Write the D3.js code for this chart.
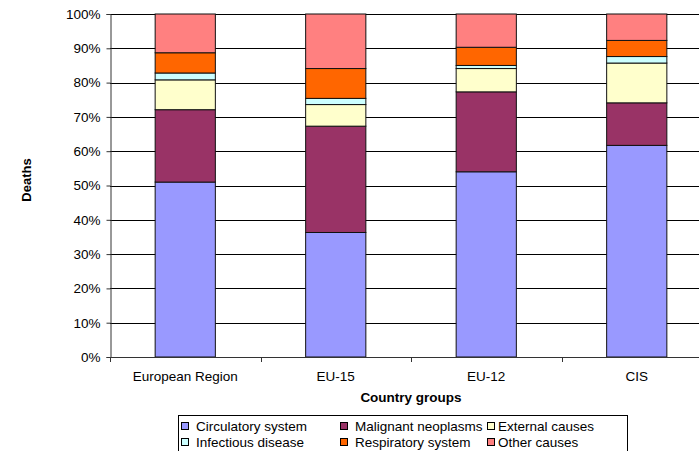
<!DOCTYPE html>
<html>
<head>
<meta charset="utf-8">
<script src="https://cdn.jsdelivr.net/npm/d3@7"></script>
<style>
  body { margin: 0; background: #fff; }
  text { font-family: "Liberation Sans", Arial, sans-serif; fill: #000; }
</style>
</head>
<body>
<svg id="chart" width="699" height="451"></svg>
<script>
// values, percent of deaths
var categories = ["European Region", "EU-15", "EU-12", "CIS"];
var circulatory = [51.0, 36.3, 54.0, 61.7];
var malignant = [21.1, 31.0, 23.3, 12.4];
var external = [8.7, 6.3, 6.8, 11.6];
var infectious = [2.0, 1.8, 0.9, 1.9];
var respiratory = [5.9, 8.7, 5.3, 4.7];
var other = [11.3, 15.9, 9.7, 7.7];

var seriesNames = ["Circulatory system", "Malignant neoplasms", "External causes",
  "Infectious disease", "Respiratory system", "Other causes"];
var seriesValues = [circulatory, malignant, external, infectious, respiratory, other];
var colors = ["#9999ff", "#993366", "#ffffcc", "#ccffff", "#ff6600", "#ff8080"];
var yTicks = [0, .1, .2, .3, .4, .5, .6, .7, .8, .9, 1];

var svg = d3.select("#chart");
var plotLeft = 110, plotRight = 712, plotTop = 14, plotBottom = 357;

var table = categories.map(function(c, i) {
  var row = {cat: c};
  seriesNames.forEach(function(s, j) { row[s] = seriesValues[j][i]; });
  return row;
});

var stack = d3.stack().keys(seriesNames).offset(d3.stackOffsetExpand)(table);

var x = d3.scaleBand().domain(categories).range([plotLeft, plotRight])
  .paddingInner(0.6).paddingOuter(0.3);
var y = d3.scaleLinear().domain([0, 1]).range([plotBottom, plotTop]);

// gridlines
svg.append("g").selectAll("line").data(yTicks).enter().append("line")
  .attr("x1", plotLeft).attr("x2", 699)
  .attr("y1", function(d) { return Math.round(y(d)) + .5; })
  .attr("y2", function(d) { return Math.round(y(d)) + .5; })
  .attr("stroke", "#000").attr("stroke-width", 1);

// bars
svg.append("g").selectAll("g").data(stack).enter().append("g")
  .attr("fill", function(d, i) { return colors[i]; })
  .selectAll("rect").data(function(d) { return d; }).enter().append("rect")
  .attr("x", function(d) { return x(d.data.cat); })
  .attr("width", x.bandwidth())
  .attr("y", function(d) { return y(d[1]); })
  .attr("height", function(d) { return y(d[0]) - y(d[1]); })
  .attr("stroke", "#111").attr("stroke-width", 1);

// y axis
var yAxis = svg.append("g").attr("transform", "translate(" + (plotLeft + .5) + ",0)")
  .call(d3.axisLeft(y).tickValues(yTicks).tickFormat(d3.format(".0%")).tickSize(4).tickPadding(6));
yAxis.select(".domain").attr("stroke", "#333");
yAxis.selectAll(".tick line").attr("stroke", "#333");
yAxis.selectAll("text").style("font-size", "13.5px").attr("fill", "#000")
  .style("font-family", "'Liberation Sans', Arial, sans-serif");

// x axis
var xTicks = d3.range(categories.length + 1).map(function(i) { return plotLeft + i * x.step(); });
var xAxis = svg.append("g");
xAxis.append("line").attr("x1", plotLeft).attr("x2", 699)
  .attr("y1", plotBottom + .5).attr("y2", plotBottom + .5).attr("stroke", "#333");
xAxis.selectAll(".xt").data(xTicks).enter().append("line").attr("class", "xt")
  .attr("x1", function(d) { return Math.round(d) + .5; })
  .attr("x2", function(d) { return Math.round(d) + .5; })
  .attr("y1", plotBottom).attr("y2", plotBottom + 5).attr("stroke", "#333");
xAxis.selectAll("text").data(categories).enter().append("text")
  .attr("x", function(d) { return x(d) + x.bandwidth() / 2; })
  .attr("y", 381).attr("text-anchor", "middle")
  .style("font-size", "13.5px").text(function(d) { return d; });

// axis titles
svg.append("text").attr("x", (plotLeft + plotRight) / 2).attr("y", 402)
  .attr("text-anchor", "middle").style("font-size", "13.5px").style("font-weight", "bold")
  .text("Country groups");
svg.append("text").attr("transform", "translate(31,180) rotate(-90)")
  .attr("text-anchor", "middle").style("font-size", "13px").style("font-weight", "bold")
  .text("Deaths");

// legend
var legend = svg.append("g");
legend.append("rect").attr("x", 178.5).attr("y", 415.5).attr("width", 449).attr("height", 45)
  .attr("fill", "#fff").attr("stroke", "#000");
var colX = [181, 340, 487];
var rowY = [426, 442];
var item = legend.selectAll(".item").data(seriesNames).enter().append("g")
  .attr("transform", function(d, i) {
    return "translate(" + colX[i % 3] + "," + rowY[Math.floor(i / 3)] + ")";
  });
item.append("rect").attr("x", .5).attr("y", -3.5).attr("width", 7).attr("height", 7)
  .attr("fill", function(d, i) { return colors[i]; }).attr("stroke", "#000");
item.append("text").attr("x", function(d, i) { return i % 3 == 2 ? 11 : 15; }).attr("dy", "0.36em")
  .style("font-size", "13.5px").text(function(d) { return d; });
</script>
</body>
</html>
